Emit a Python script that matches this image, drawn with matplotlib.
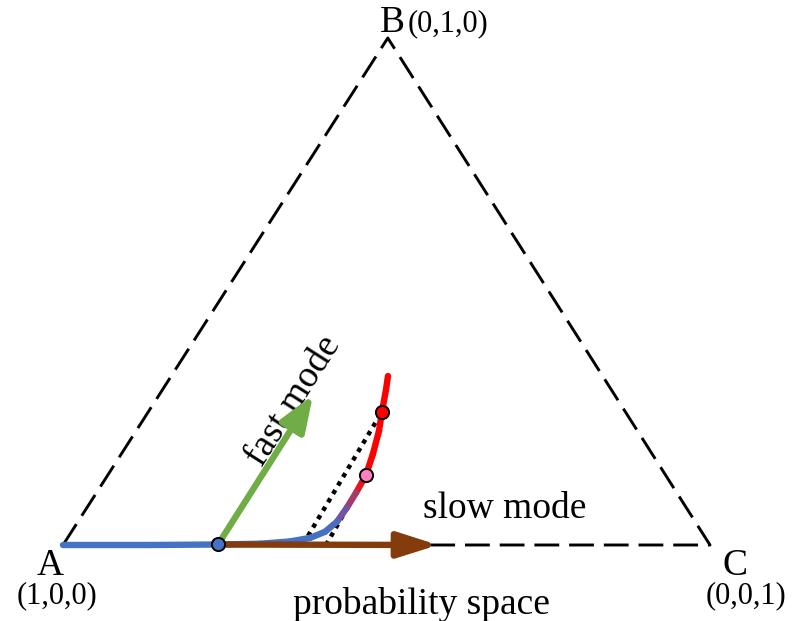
import numpy as np
import matplotlib.pyplot as plt
from matplotlib.collections import LineCollection
from matplotlib.colors import LinearSegmentedColormap

plt.rcParams['font.family'] = ['Liberation Serif', 'DejaVu Serif']

# simplex corners (base fraction, height fraction)
tri_x = [0.0, 0.502, 1.0]
tri_y = [0.0, 1.0, 0.0]
corner_names = ['A', 'B', 'C']
corner_coords = ['(1,0,0)', '(0,1,0)', '(0,0,1)']

# trajectory: relaxes along the fast mode onto the slow manifold (the base)
traj_x = [0.5023, 0.4992, 0.4930, 0.4884, 0.4791, 0.4683, 0.4529, 0.4389,
          0.4235, 0.4049, 0.3818, 0.3508, 0.3045, 0.2396, 0.1345, 0.0]
traj_y = [0.3333, 0.3060, 0.2630, 0.2250, 0.1800, 0.1380, 0.1030, 0.0740,
          0.0460, 0.0260, 0.0140, 0.0070, 0.0025, 0.0010, 0.0, 0.0]

# marked states on the trajectory
red_pt = (0.4930, 0.2630)
pink_pt = (0.4683, 0.1380)
blue_pt = (0.2396, 0.0010)

# dotted projections along the fast direction
proj1_x, proj1_y = [0.3787, 0.4930], [0.0180, 0.2630]
proj2_x, proj2_y = [0.4065, 0.4683], [0.0000, 0.1380]

fast_tip = (0.3864, 0.2959)
slow_tip = (0.5796, 0.0)

fig = plt.figure(figsize=(8.02, 6.21), dpi=100)
ax = fig.add_axes([63 / 802, 76 / 621, 647 / 802, 507 / 621])
ax.set_xlim(0, 1)
ax.set_ylim(0, 1)
ax.axis('off')

# dashed triangle
ax.plot(tri_x + [tri_x[0]], tri_y + [tri_y[0]], color='black', lw=2.1,
        dashes=(8.5, 3.4), clip_on=False, zorder=1)

# dotted projection lines
for px, py in [(proj1_x, proj1_y), (proj2_x, proj2_y)]:
    ax.plot(px, py, color='black', lw=3.2, linestyle=(0, (1, 1.2)), clip_on=False, zorder=2)

# trajectory with blue -> red colour blend
pts = np.column_stack([traj_x, traj_y])
segs = np.stack([pts[:-1], pts[1:]], axis=1)
mid_y = segs[:, :, 1].mean(axis=1)
t = np.clip((mid_y - 0.03) / (pink_pt[1] - 0.03), 0, 1)
cmap = LinearSegmentedColormap.from_list('traj', ['#4472C4', '#7A4E9E', '#C0304A', '#FF0000'])
lc = LineCollection(segs, colors=cmap(t), linewidths=4.6, capstyle='round',
                    joinstyle='round', clip_on=False, zorder=3)
ax.add_collection(lc)

# slow / fast mode arrows
ax.annotate('', xy=slow_tip, xytext=blue_pt, zorder=4,
            arrowprops=dict(arrowstyle='-|>,head_length=1.1,head_width=0.35', color='#843C0C',
                            lw=4.6, mutation_scale=22, shrinkA=0, shrinkB=0))
ax.annotate('', xy=fast_tip, xytext=blue_pt, zorder=4,
            arrowprops=dict(arrowstyle='-|>,head_length=1.0,head_width=0.38', color='#70AD47',
                            lw=4.6, mutation_scale=22, shrinkA=0, shrinkB=0))

# state markers
for (mx, my), fc in [(blue_pt, '#4472C4'), (pink_pt, '#FF80C0'), (red_pt, '#FF0000')]:
    ax.plot(mx, my, 'o', ms=9.5, mfc=fc, mec='black', mew=1.4, clip_on=False, zorder=6)

# corner labels
ax.text(-0.020, -0.040, corner_names[0], fontsize=27, ha='center', va='center')
ax.text(-0.009, -0.100, corner_coords[0], fontsize=22, ha='center', va='center')
ax.text(0.509, 1.030, corner_names[1], fontsize=27, ha='center', va='center')
ax.text(0.595, 1.028, corner_coords[1], fontsize=22, ha='center', va='center')
ax.text(1.039, -0.040, corner_names[2], fontsize=27, ha='center', va='center')
ax.text(1.056, -0.100, corner_coords[2], fontsize=22, ha='center', va='center')

ax.text(0.3560, 0.283, 'fast mode', fontsize=27, rotation=57.5, rotation_mode='anchor',
        ha='center', va='center')
ax.text(0.6832, 0.072, 'slow mode', fontsize=27, ha='center', va='center')
ax.text(0.5533, -0.117, 'probability space', fontsize=27, ha='center', va='center')

fig.savefig('out.png', dpi=100)
